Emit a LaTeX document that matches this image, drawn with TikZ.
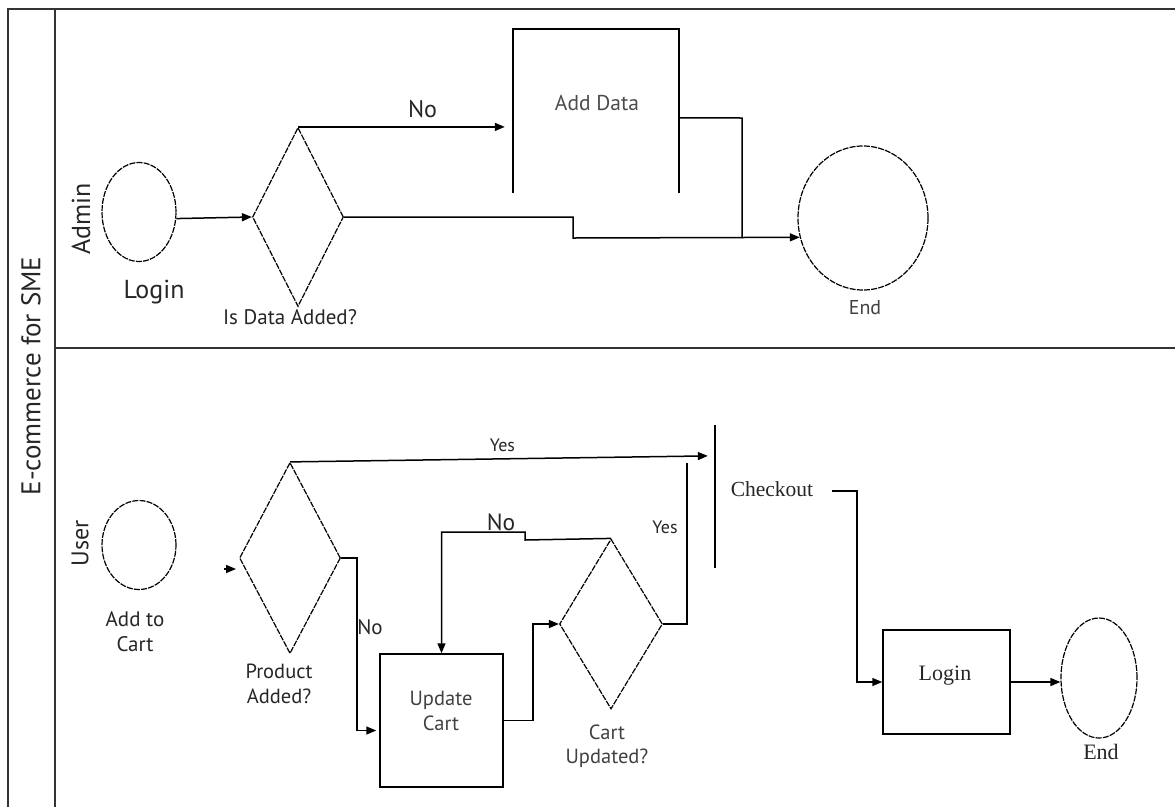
\documentclass[tikz,border=0pt]{standalone}
\usepackage{fontspec}
\setmainfont{PT Sans}
\newfontfamily\seriffont{Liberation Serif}
\usetikzlibrary{shapes.geometric,arrows.meta,calc}
\tikzset{
  frame/.style={line width=1.8pt,draw=black!80},
  conn/.style={line width=1.5pt,draw=black},
  arr/.style={conn,-{Triangle[length=10pt,width=8pt]}},
  dec/.style={diamond,draw,line width=1.2pt,dash pattern=on 6pt off 1.2pt,inner sep=0pt},
  term/.style={ellipse,draw,line width=1.2pt,dash pattern=on 6pt off 1.2pt,inner sep=0pt},
  box/.style={rectangle,draw,line width=1.5pt,inner sep=0pt},
  lbl/.style={inner sep=0pt,align=center,text=black!85},
  fs/.style={font=\fontsize{#1}{#1}\selectfont},
}
\begin{document}
\begin{tikzpicture}[x=1pt,y=-1pt]
\useasboundingbox (0,0) rectangle (1175,807);
% frame and lanes
\draw[frame] (8,807) -- (8,9) -- (1175,9);
\draw[frame] (55,9) -- (55,807);
\draw[frame] (55,348) -- (1175,348);
\node[lbl,rotate=90,fs=27] (title) at (31,376) {E-commerce for SME};
\node[lbl,rotate=90,fs=26] (admin) at (81,219) {Admin};
\node[lbl,rotate=90,fs=24] (user) at (80,543) {User};

% ---- Admin lane
\node[term,minimum width=74pt,minimum height=99pt] (login) at (139,212) {};
\node[lbl,fs=26] (loginl) at (154,292) {Login};
\node[dec,minimum width=91pt,minimum height=179pt] (d1) at (298,217) {};
\node[lbl,fs=21] (d1l) at (290,317) {Is Data Added?};
\node[rectangle,inner sep=0pt,minimum width=166pt,minimum height=164pt] (ad) at (596,111) {};
\draw[conn] (ad.south west) -- (ad.north west) -- (ad.north east) -- (ad.south east);
\node[lbl,fs=21.5,text=black!70] (adl) at (597,103) {Add Data};
\node[term,minimum width=130pt,minimum height=144pt] (endA) at (863,218) {};
\node[lbl,fs=20,text=black!75] (endAl) at (865,308) {End};

\draw[arr] (login.-10) -- (d1.west);
\draw[arr,shorten >=8pt] (d1.north) -- (d1.north -| ad.west)
  node[lbl,fs=24,pos=0.58,above=8pt] (no1) {No};
\draw[arr] (d1.east) -- (573,217) -- (573,238) -- (endA.197.5);
\draw[conn] ($(ad.north east)+(0,89)$) -- (742,118) -- (742,238);

% ---- User lane
\node[term,minimum width=74pt,minimum height=89pt] (cart) at (139,545) {};
\node[lbl,fs=21] (cartl) at (135,632) {Add to\\[4pt]Cart};
\coordinate (stub) at (224,569);
\draw[arr] (stub) -- (236,569);
\node[dec,minimum width=101pt,minimum height=191pt] (d2) at (290,558) {};
\node[lbl,fs=20.5] (d2l) at (279,684) {Product\\[4pt]Added?};
\node[box,minimum width=123pt,minimum height=133pt] (uc) at (441.5,720.5) {};
\node[lbl,fs=20.5,text=black!75] (ucl) at (441,711) {Update\\[4pt]Cart};
\node[dec,minimum width=103pt,minimum height=170pt] (d3) at (611,624) {};
\node[lbl,fs=20.5,text=black!75] (d3l) at (607,746) {Cart\\[4pt]Updated?};
\node[rectangle,inner sep=0pt,minimum width=0pt,minimum height=143pt] (co) at (715,496.5) {};
\draw[conn] (co.north west) -- (co.south west);
\node[lbl,font=\seriffont\fontsize{21.5}{21.5}\selectfont] (ct) at (772,489) {Checkout};
\node[box,minimum width=127pt,minimum height=104pt] (lg) at (946.5,682) {};
\node[lbl,font=\seriffont\fontsize{22}{22}\selectfont] (lgl) at (945,676) {Login};
\node[term,minimum width=76pt,minimum height=120pt] (endU) at (1099,678) {};
\node[lbl,font=\seriffont\fontsize{22}{22}\selectfont] (endUl) at (1101,752) {End};

\draw[arr,shorten >=7pt] (d2.north) -- ($(co.north west)+(0,31)$)
  node[lbl,fs=18,pos=0.5,above=6pt] (yes1) {Yes};
\draw[arr,shorten >=3pt] (d2.east) -- (357,558) |- ($(uc.west)+(0,10)$);
\node[lbl,fs=21] (no2) at (370,627) {No};
\draw[arr] (uc.east) -- (533,720.5) |- (d3.west);
\draw[arr] (d3.north) -- (525,540) -- (525,532) -| (uc.north);
\node[lbl,fs=23.5] (no3) at (501,522) {No};
\coordinate (yend) at (687,463);
\draw[conn] (d3.east) -- (687,624) -- (yend);
\node[lbl,fs=18] (yes2) at (665,527) {Yes};
\draw[arr] ($(ct.east)+(19,2)$) -- (857,491) |- (lg.west);
\draw[arr] (lg.east) -- (lg.east -| endU.west);
\end{tikzpicture}
\end{document}
